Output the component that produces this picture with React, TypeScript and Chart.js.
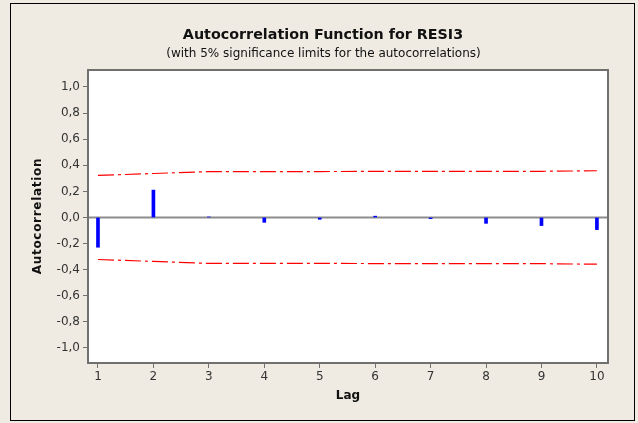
import React, { useEffect, useRef } from 'react';
import { Chart, registerables } from 'chart.js';

Chart.register(...registerables);

const lags = [1, 2, 3, 4, 5, 6, 7, 8, 9, 10];
const acfValues = [-0.228, 0.21, 0.004, -0.037, -0.014, 0.01, -0.009, -0.045, -0.062, -0.093];
const upperLimit = [0.322, 0.337, 0.352, 0.352, 0.352, 0.353, 0.353, 0.353, 0.354, 0.358];
const lowerLimit = [-0.322, -0.337, -0.352, -0.352, -0.352, -0.353, -0.353, -0.353, -0.354, -0.358];
const yTicks = [-1, -0.8, -0.6, -0.4, -0.2, 0, 0.2, 0.4, 0.6, 0.8, 1];
const xTicks = [1, 2, 3, 4, 5, 6, 7, 8, 9, 10];

const titleText = 'Autocorrelation Function for RESI3';
const subtitleText = '(with 5% significance limits for the autocorrelations)';
const yTitle = 'Autocorrelation';
const xTitle = 'Lag';

const BG = '#EFEBE2';
const FONT = "'DejaVu Sans', sans-serif";

const framePlugin = {
  id: 'minitabFrame',
  beforeDraw(chart: any) {
    const { ctx, chartArea } = chart;
    ctx.save();
    ctx.fillStyle = BG;
    ctx.fillRect(0, 0, chart.width, chart.height);
    ctx.strokeStyle = '#000';
    ctx.lineWidth = 1;
    ctx.strokeRect(10.5, 3.5, 624, 417);
    ctx.fillStyle = '#fff';
    ctx.fillRect(chartArea.left, chartArea.top, chartArea.right - chartArea.left, chartArea.bottom - chartArea.top);
    ctx.restore();
  },
  beforeDatasetsDraw(chart: any) {
    const { ctx, chartArea, scales } = chart;
    const y0 = scales.y.getPixelForValue(0);
    ctx.save();
    ctx.strokeStyle = '#8c8c8c';
    ctx.lineWidth = 2;
    ctx.beginPath();
    ctx.moveTo(chartArea.left, y0);
    ctx.lineTo(chartArea.right, y0);
    ctx.stroke();
    ctx.restore();
  },
  afterDraw(chart: any) {
    const { ctx, chartArea } = chart;
    ctx.save();
    ctx.strokeStyle = '#707070';
    ctx.lineWidth = 2;
    ctx.strokeRect(chartArea.left, chartArea.top, chartArea.right - chartArea.left, chartArea.bottom - chartArea.top);

    ctx.fillStyle = '#111';
    ctx.textAlign = 'center';
    ctx.textBaseline = 'alphabetic';
    ctx.font = `bold 14.3px ${FONT}`;
    ctx.fillText(titleText, 323, 39);
    ctx.font = `12px ${FONT}`;
    ctx.fillText(subtitleText, 323.5, 57);

    ctx.font = `bold 12px ${FONT}`;
    ctx.textBaseline = 'middle';
    ctx.fillText(xTitle, (chartArea.left + chartArea.right) / 2, 396);

    ctx.save();
    ctx.translate(38, 216);
    ctx.rotate(-Math.PI / 2);
    (ctx as any).letterSpacing = '0.7px';
    ctx.font = `bold 12px ${FONT}`;
    ctx.fillText(yTitle, 0, 0);
    ctx.restore();
    ctx.restore();
  },
};

export default function App() {
  const canvasRef = useRef<HTMLCanvasElement | null>(null);

  useEffect(() => {
    document.body.style.margin = '0';
    const canvas = canvasRef.current;
    if (!canvas) return;
    const chart = new Chart(canvas, {
      type: 'bar',
      data: {
        datasets: [
          {
            type: 'bar',
            label: 'ACF',
            data: lags.map((l, i) => ({ x: l, y: acfValues[i] })),
            backgroundColor: '#0000ff',
            borderWidth: 0,
            barThickness: 3,
            order: 2,
          } as any,
          {
            type: 'line',
            label: 'Upper limit',
            data: lags.map((l, i) => ({ x: l, y: upperLimit[i] })),
            borderColor: '#ff0000',
            borderWidth: 1.2,
            borderDash: [16, 4, 3, 4],
            pointRadius: 0,
            fill: false,
            tension: 0,
            order: 1,
          },
          {
            type: 'line',
            label: 'Lower limit',
            data: lags.map((l, i) => ({ x: l, y: lowerLimit[i] })),
            borderColor: '#ff0000',
            borderWidth: 1.2,
            borderDash: [16, 4, 3, 4],
            pointRadius: 0,
            fill: false,
            tension: 0,
            order: 1,
          },
        ],
      },
      options: {
        responsive: false,
        animation: false,
        layout: { padding: { top: 70, left: 0, right: 30, bottom: 0 } },
        plugins: {
          legend: { display: false },
          tooltip: { enabled: false },
          title: { display: false },
        },
        scales: {
          x: {
            type: 'linear',
            min: 0.82,
            max: 10.2,
            offset: false,
            afterBuildTicks: (scale: any) => {
              scale.ticks = xTicks.map((v) => ({ value: v }));
            },
            afterFit: (scale: any) => {
              scale.height = 60;
            },
            grid: {
              offset: false,
              drawOnChartArea: false,
              drawTicks: true,
              tickLength: 5,
              tickColor: '#707070',
              color: '#707070',
            },
            border: { display: false },
            ticks: {
              autoSkip: false,
              maxRotation: 0,
              padding: 2,
              color: '#333',
              font: { family: FONT, size: 12 },
              callback: (v: any) => String(v),
            },
          },
          y: {
            type: 'linear',
            min: -1.115,
            max: 1.13,
            afterBuildTicks: (scale: any) => {
              scale.ticks = yTicks.map((v) => ({ value: v }));
            },
            afterFit: (scale: any) => {
              scale.width = 88;
            },
            grid: {
              offset: false,
              drawOnChartArea: false,
              drawTicks: true,
              tickLength: 5,
              tickColor: '#707070',
              color: '#707070',
            },
            border: { display: false },
            ticks: {
              autoSkip: false,
              padding: 3,
              color: '#333',
              font: { family: FONT, size: 12 },
              callback: (v: any) => Number(v).toFixed(1).replace('.', ','),
            },
          },
        },
      },
      plugins: [framePlugin],
    } as any);
    return () => chart.destroy();
  }, []);

  return (
    <div style={{ width: 638, height: 423 }}>
      <canvas ref={canvasRef} width={638} height={423} style={{ display: 'block' }} />
    </div>
  );
}
